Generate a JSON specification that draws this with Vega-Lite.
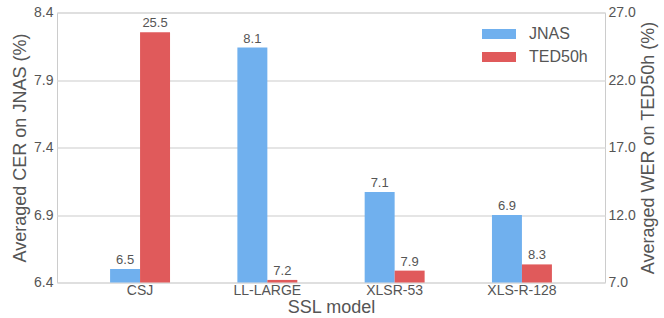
{
  "$schema": "https://vega.github.io/schema/vega-lite/v6.json",
  "width": 548,
  "height": 270,
  "autosize": {"type": "none"},
  "padding": {"left": 57, "top": 12.5, "right": 59, "bottom": 35.5},
  "config": {
    "font": "Liberation Sans",
    "view": {"stroke": "#cccccc", "strokeWidth": 1},
    "axis": {
      "labelFont": "Liberation Sans",
      "titleFont": "Liberation Sans",
      "labelColor": "#555555",
      "titleColor": "#555555",
      "titleFontWeight": "normal",
      "ticks": false,
      "domain": false,
      "labelFontSize": 14,
      "titleFontSize": 18
    },
    "legend": {"labelFont": "Liberation Sans"}
  },
  "data": {
    "values": [
      {"model": "CSJ", "dataset": "JNAS", "value": 6.5},
      {"model": "LL-LARGE", "dataset": "JNAS", "value": 8.14},
      {"model": "XLSR-53", "dataset": "JNAS", "value": 7.07},
      {"model": "XLS-R-128", "dataset": "JNAS", "value": 6.9},
      {"model": "CSJ", "dataset": "TED50h", "value": 25.54},
      {"model": "LL-LARGE", "dataset": "TED50h", "value": 7.19},
      {"model": "XLSR-53", "dataset": "TED50h", "value": 7.88},
      {"model": "XLS-R-128", "dataset": "TED50h", "value": 8.34}
    ]
  },
  "encoding": {
    "x": {
      "field": "model",
      "type": "nominal",
      "sort": ["CSJ", "LL-LARGE", "XLSR-53", "XLS-R-128"],
      "scale": {"paddingInner": 0.529, "paddingOuter": 0.417},
      "axis": {"title": "SSL model", "labelAngle": 0, "labelPadding": 1, "titlePadding": 1, "grid": false}
    },
    "xOffset": {
      "field": "dataset",
      "type": "nominal",
      "scale": {"domain": ["JNAS", "TED50h"], "paddingInner": 0, "paddingOuter": 0}
    },
    "color": {
      "field": "dataset",
      "type": "nominal",
      "scale": {"domain": ["JNAS", "TED50h"], "range": ["#70b0ee", "#e05a5b"]},
      "legend": {
        "orient": "none",
        "legendX": 433.5,
        "legendY": 13,
        "title": null,
        "padding": 0,
        "symbolType": "M-2,-0.6H2V0.6H-2Z",
        "symbolSize": 289,
        "symbolStrokeWidth": 0,
        "labelFontSize": 16,
        "labelColor": "#555555",
        "labelOffset": 21.5,
        "rowPadding": 6
      }
    }
  },
  "layer": [
    {
      "transform": [{"filter": "datum.dataset === 'JNAS'"}],
      "encoding": {
        "y": {
          "field": "value",
          "type": "quantitative",
          "scale": {"domain": [6.4, 8.4], "zero": false, "nice": false},
          "axis": {
            "orient": "left",
            "values": [6.4, 6.9, 7.4, 7.9, 8.4],
            "format": ".1f",
            "title": "Averaged CER on JNAS (%)",
            "grid": true,
            "gridColor": "#dddddd",
            "gridWidth": 1.5,
            "labelPadding": 4,
            "titlePadding": 4
          }
        }
      },
      "layer": [
        {"mark": {"type": "bar"}, "encoding": {"y2": {"datum": 6.4}}},
        {
          "mark": {"type": "text", "baseline": "bottom", "dy": -2, "fontSize": 13, "font": "Liberation Sans"},
          "encoding": {"text": {"field": "value", "format": ".1f"}, "color": {"value": "#555555"}}
        }
      ]
    },
    {
      "transform": [{"filter": "datum.dataset === 'TED50h'"}],
      "encoding": {
        "y": {
          "field": "value",
          "type": "quantitative",
          "scale": {"domain": [7, 27], "zero": false, "nice": false},
          "axis": {
            "orient": "right",
            "values": [7, 12, 17, 22, 27],
            "format": ".1f",
            "title": "Averaged WER on TED50h (%)",
            "titleAngle": 270,
            "titleBaseline": "top",
            "grid": false,
            "labelPadding": 3,
            "titlePadding": 4
          }
        }
      },
      "layer": [
        {"mark": {"type": "bar"}, "encoding": {"y2": {"datum": 7}}},
        {
          "mark": {"type": "text", "baseline": "bottom", "dy": -2, "fontSize": 13, "font": "Liberation Sans"},
          "encoding": {"text": {"field": "value", "format": ".1f"}, "color": {"value": "#555555"}}
        }
      ]
    }
  ],
  "resolve": {"scale": {"y": "independent"}}
}
